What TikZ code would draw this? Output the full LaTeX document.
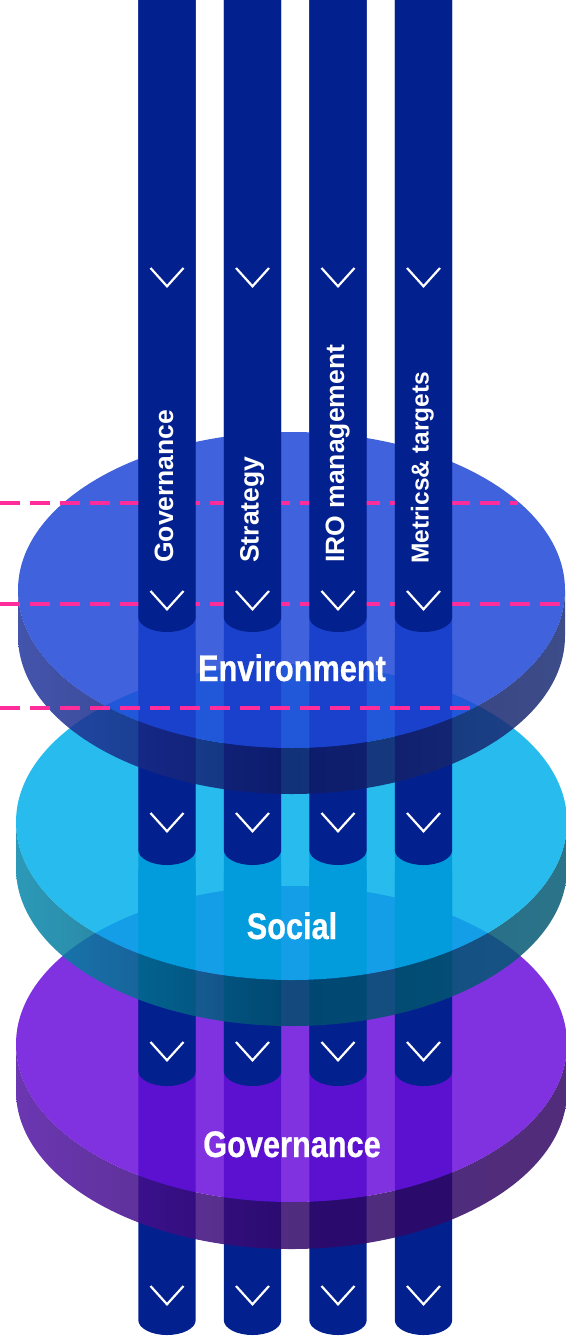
\documentclass[tikz,border=0pt]{standalone}
\usepackage{fontspec}
\setmainfont{Liberation Sans}
\newfontfamily\condfont[FakeStretch=0.83,FakeBold=0.6]{Liberation Sans}
\definecolor{navy}{RGB}{3,32,143}
\definecolor{envtop}{RGB}{31,71,214}
\definecolor{soctop}{RGB}{2,177,234}
\definecolor{govtop}{RGB}{107,15,219}
\definecolor{envL}{RGB}{34,55,158}
\definecolor{envM}{RGB}{14,26,100}
\definecolor{envR}{RGB}{28,46,118}
\definecolor{socL}{RGB}{8,136,172}
\definecolor{socM}{RGB}{0,78,108}
\definecolor{socR}{RGB}{5,92,118}
\definecolor{govL}{RGB}{82,20,165}
\definecolor{govM}{RGB}{50,8,105}
\definecolor{govR}{RGB}{50,8,100}
\definecolor{pinkdash}{RGB}{255,45,155}
\newcommand\colseg[3]{%
  \fill[navy] (#1-28.7,#2) -- (#1-28.7,#3-15)
    arc[start angle=180,end angle=360,x radius=28.7pt,y radius=15pt]
    -- (#1+28.7,#2) -- cycle;}
\newcommand\chev[2]{%
  \draw[chevline] (#1-16.5,#2) -- (#1,#2+18.3) -- (#1+16.5,#2);}
\newcommand\mydisk[9]{%
  \shade[left color=#7, right color=#9, middle color=#8, fill opacity=0.85]
    (#1-#3,#2) -- (#1-#3,#2+#5)
    arc[start angle=180,end angle=360,x radius=#3pt,y radius=#4pt]
    -- (#1+#3,#2)
    arc[start angle=0,end angle=-180,x radius=#3pt,y radius=#4pt] -- cycle;
  \fill[#6, fill opacity=0.85] (#1,#2) ellipse[x radius=#3pt, y radius=#4pt];}
\begin{document}
\begin{tikzpicture}[x=1pt,y=-1pt,
  chevline/.style={white, line width=2.2pt},
  pinkline/.style={pinkdash, line width=3.4pt, dash pattern=on 20pt off 10pt},
  collabel/.style={rotate=90, anchor=base west, text=white, inner sep=0pt,
    font=\bfseries\fontsize{26.5}{30}\selectfont},
  disklabel/.style={anchor=base, text=white, inner sep=0pt,
    font=\condfont\bfseries\fontsize{37}{40}\selectfont}]
\useasboundingbox (0,0) rectangle (565,1340);
\fill[white] (0,0) rectangle (565,1340);
% base columns
\foreach \xc in {167,252.5,338,423.5}{\colseg{\xc}{-5}{1335}}
% governance disk
\mydisk{291.5}{1044}{275.5}{158}{47}{govtop}{govL}{govM}{govR}
\foreach \xc in {167,252.5,338,423.5}{\colseg{\xc}{870}{1086}\chev{\xc}{1042}}
% social disk
\mydisk{291.5}{822}{275.5}{158}{46}{soctop}{socL}{socM}{socR}
\foreach \xc in {167,252.5,338,423.5}{\colseg{\xc}{640}{865}\chev{\xc}{813}}
% environment disk
\mydisk{291.5}{590}{273.5}{158}{46}{envtop}{envL}{envM}{envR}
% dashed guide lines
\coordinate (d1a) at (0,503); \coordinate (d1b) at (518,503);
\coordinate (d2a) at (0,604); \coordinate (d2b) at (570,604);
\coordinate (d3a) at (0,708); \coordinate (d3b) at (480,708);
\draw[pinkline] (d1a) -- (d1b);
\draw[pinkline] (d2a) -- (d2b);
\draw[pinkline] (d3a) -- (d3b);
% top column segments
\foreach \xc in {167,252.5,338,423.5}{\colseg{\xc}{-5}{632}\chev{\xc}{268}\chev{\xc}{591}\chev{\xc}{1286}}
% column labels
\node[collabel] (c1) at (173,563) {Governance};
\node[collabel] (c2) at (258.5,563) {Strategy};
\node[collabel] (c3) at (344,563) {IRO management};
\node[collabel, font=\bfseries\fontsize{24.5}{28}\selectfont] (c4) at (428.5,564) {Metrics\& targets};
% disk labels
\node[disklabel] (env) at (292,681) {Environment};
\node[disklabel] (soc) at (292,939) {Social};
\node[disklabel] (gov) at (292,1157) {Governance};
\end{tikzpicture}
\end{document}
